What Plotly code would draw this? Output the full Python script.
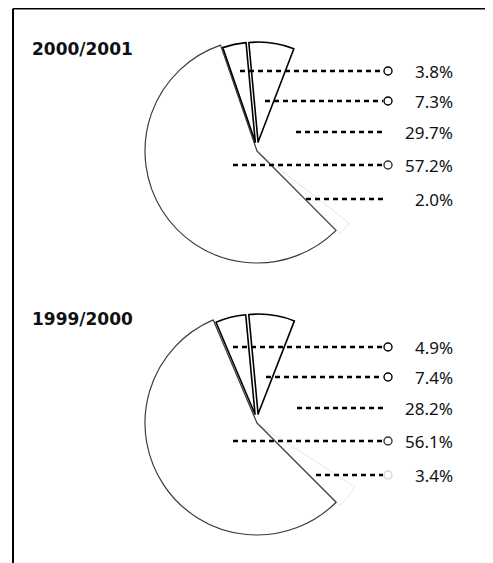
import plotly.graph_objects as go

# page is drawn with the browser's default 8px body margin, so the figure
# covers window pixels 8..493 x 8..563; axis ranges are in window pixels.
OFF = 8
W, H = 493 - OFF, 563 - OFF

# ---------------- data ----------------
years = ["2000/2001", "1999/2000"]
segments = ["Segment 1", "Segment 2", "Segment 3", "Segment 4", "Segment 5"]
# values listed in the order of the label column (top to bottom)
shares_2000_2001 = [3.8, 7.3, 29.7, 57.2, 2.0]
shares_1999_2000 = [4.9, 7.4, 28.2, 56.1, 3.4]
series = [shares_2000_2001, shares_1999_2000]

# ---------------- layout / style ----------------
slice_order = [0, 1, 2, 4, 3]          # clockwise order of the slices in the pie
rotations = [-19, -23]
pie_centers_y = [151, 423]
pie_cx = 257
R_MAIN, PULL_MAIN = 112, 0.045
R_WEDGE, PULL_WEDGE = 100, 0.08
wedge_rows = [0, 1]
main_rows = [3, 4]
main_line_col = {3: "#3a3a3a", 4: "#dedede"}
main_line_w = {3: 1.2, 4: 0.8}
main_pull = {3: 0.0, 4: PULL_MAIN}

label_base_y = [71, 347]
label_offsets = [0, 30, 61, 94, 128]
label_right_x = 455
leader_start_x = [[240, 265, 296, 233, 306], [233, 266, 297, 233, 316]]
leader_end_x = 383
circle_x = 388
circle_cols = [["black", "black", None, "#333333", None],
               ["black", "black", None, "#333333", "#d5d5d5"]]
title_xy = [(30, 49), (30, 319)]


def domain(cx, cy, half):
    return dict(x=[(cx - OFF - half) / W, (cx - OFF + half) / W],
                y=[1 - (cy - OFF + half) / H, 1 - (cy - OFF - half) / H])


fig = go.Figure()
TRANSP = "rgba(0,0,0,0)"

for p, vals in enumerate(series):
    ordered_vals = [vals[i] for i in slice_order]
    ordered_lab = [segments[i] for i in slice_order]
    # main trace (large slice + small pulled slice)
    colsA = ["white" if i in main_rows else TRANSP for i in slice_order]
    lcA = [main_line_col.get(i, TRANSP) for i in slice_order]
    lwA = [main_line_w.get(i, 0) for i in slice_order]
    pullA = [main_pull.get(i, 0) for i in slice_order]
    fig.add_trace(go.Pie(
        values=ordered_vals, labels=ordered_lab, sort=False, direction="clockwise",
        rotation=rotations[p], textinfo="none", hoverinfo="label+value",
        marker=dict(colors=colsA, line=dict(color=lcA, width=lwA)),
        pull=pullA, showlegend=False,
        domain=domain(pie_cx, pie_centers_y[p], R_MAIN * (1 + PULL_MAIN))))
    # exploded wedges
    colsB = ["white" if i in wedge_rows else TRANSP for i in slice_order]
    lcB = ["black" if i in wedge_rows else TRANSP for i in slice_order]
    lwB = [1.6 if i in wedge_rows else 0 for i in slice_order]
    pullB = [PULL_WEDGE if i in wedge_rows else 0 for i in slice_order]
    fig.add_trace(go.Pie(
        values=ordered_vals, labels=ordered_lab, sort=False, direction="clockwise",
        rotation=rotations[p], textinfo="none", hoverinfo="label+value",
        marker=dict(colors=colsB, line=dict(color=lcB, width=lwB)),
        pull=pullB, showlegend=False,
        domain=domain(pie_cx, pie_centers_y[p] - 1, R_WEDGE * (1 + PULL_WEDGE))))

    # leader lines (above the pies), circles, labels
    for i, v in enumerate(vals):
        y = label_base_y[p] + label_offsets[i]
        fig.add_shape(type="line", xref="x", yref="y", layer="above",
                      x0=leader_start_x[p][i], x1=leader_end_x, y0=y, y1=y,
                      line=dict(color="black", width=2.4, dash="5px,4px"))
        if circle_cols[p][i]:
            fig.add_trace(go.Scatter(
                x=[circle_x], y=[y], mode="markers",
                marker=dict(symbol="circle", size=8, color="white",
                            line=dict(color=circle_cols[p][i], width=1.4)),
                hoverinfo="skip", showlegend=False))
        fig.add_annotation(x=label_right_x, y=y, xref="x", yref="y",
                           text=f"{v:.1f}%", showarrow=False, xanchor="right",
                           yanchor="middle",
                           font=dict(family="Noto Sans", size=17, color="#111"))
    fig.add_annotation(x=title_xy[p][0], y=title_xy[p][1], xref="x", yref="y",
                       text=f"<b>{years[p]}</b>", showarrow=False, xanchor="left",
                       yanchor="middle",
                       font=dict(family="DejaVu Sans", size=17, color="#111"))

# frame
fig.add_shape(type="line", xref="x", yref="y", x0=13, x1=13, y0=8.8, y1=563,
              line=dict(color="black", width=2))
fig.add_shape(type="line", xref="x", yref="y", x0=13, x1=493, y0=8.8, y1=8.8,
              line=dict(color="black", width=1.5))

fig.update_layout(
    width=W, height=H, margin=dict(l=0, r=0, t=0, b=0),
    paper_bgcolor="white", plot_bgcolor="white",
    xaxis=dict(range=[OFF, 493], visible=False, fixedrange=True),
    yaxis=dict(range=[563, OFF], visible=False, fixedrange=True),
)

fig.write_html("out.html")
